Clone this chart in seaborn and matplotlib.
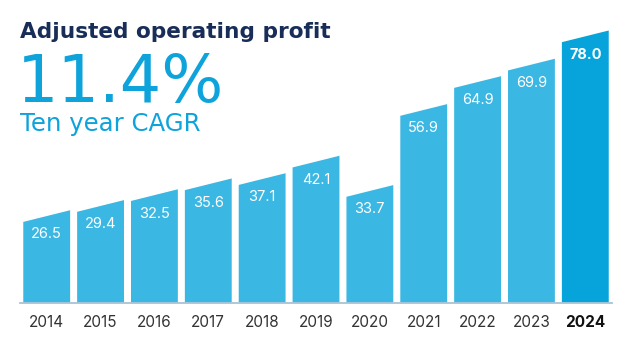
import matplotlib
matplotlib.use("Agg")
import matplotlib.pyplot as plt
import seaborn as sns
import pandas as pd
from matplotlib.patches import Polygon

# ---- data ----
years = ["2014", "2015", "2016", "2017", "2018", "2019", "2020", "2021", "2022", "2023", "2024"]
profit = [26.5, 29.4, 32.5, 35.6, 37.1, 42.1, 33.7, 56.9, 64.9, 69.9, 78.0]
highlight_year = "2024"
title = "Adjusted operating profit"
cagr_value = "11.4%"
cagr_label = "Ten year CAGR"

# ---- style ----
sns.set_theme(style="white")
plt.rcParams['font.family'] = ['Inter', 'DejaVu Sans']

NAVY = "#182d57"
CYAN = "#0ea3da"
BAR = "#3bb7e3"
BAR_HI = "#07a4db"

W, H = 629, 345
fig = plt.figure(figsize=(W / 100, H / 100), dpi=100)
fig.patch.set_facecolor("white")

ax_left, ax_right = 19.5, 611.7
base_y = 302.7
ax = fig.add_axes([ax_left / W, (H - base_y) / H, (ax_right - ax_left) / W, base_y / H])

df = pd.DataFrame({"year": years, "profit": profit})
palette = {y: (BAR_HI if y == highlight_year else BAR) for y in years}
sns.barplot(data=df, x="year", y="profit", hue="year", palette=palette,
            width=0.87, saturation=1, legend=False, ax=ax, order=years, hue_order=years)

ax.set_ylim(0, base_y / 3.49)
ax.set_xlim(-0.505, 10.49)

slant = 3.35  # sloped top: left edge lower than right edge (data units)
bars = sorted(ax.patches, key=lambda p: p.get_x())
for p, y, v in zip(bars, years, profit):
    x0, w, h = p.get_x(), p.get_width(), p.get_height()
    poly = Polygon([(x0, 0), (x0 + w, 0), (x0 + w, h), (x0, h - slant)],
                   closed=True, facecolor=p.get_facecolor(), edgecolor="none", zorder=2)
    ax.add_patch(poly)
    p.set_visible(False)
    ax.text(x0 + w / 2, h - slant - 3.6, f"{v:.1f}", ha="center", va="center",
            color="white", fontsize=10.5,
            fontweight="bold" if y == highlight_year else "normal", zorder=3)

# axes styling
for s in ["top", "right", "left"]:
    ax.spines[s].set_visible(False)
ax.spines["bottom"].set_color("#a9c3d6")
ax.spines["bottom"].set_linewidth(1.3)
ax.set_yticks([])
ax.set_xlabel("")
ax.set_ylabel("")
ax.tick_params(axis="x", length=0, pad=9, labelsize=11, labelcolor="#333333")
for lbl in ax.get_xticklabels():
    if lbl.get_text() == highlight_year:
        lbl.set_fontweight("bold")
        lbl.set_color("#111111")

# header texts
fig.text(20 / W, 1 - 37.7 / H, title, fontsize=15.6, fontweight="bold",
         family="DejaVu Sans", color=NAVY, va="baseline", ha="left")
fig.text(17 / W, 1 - 101.7 / H, cagr_value, fontsize=47, fontweight="normal",
         family="DejaVu Sans", color=CYAN, va="baseline", ha="left")
fig.text(20 / W, 1 - 131 / H, cagr_label, fontsize=17.6, fontweight="normal",
         family="DejaVu Sans", color=CYAN, va="baseline", ha="left")

fig.savefig("out.png", dpi=100, facecolor="white")
